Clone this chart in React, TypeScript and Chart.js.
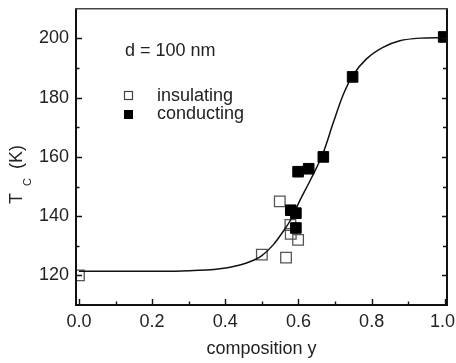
import React, { useEffect, useRef } from 'react';
import { Chart, registerables } from 'chart.js';

Chart.register(...registerables);

// ---- data ----
const insulatingX = [0.0, 0.5, 0.549, 0.566, 0.578, 0.579, 0.599];
const insulatingY = [120, 127, 145, 126, 137, 134, 132];

const conductingX = [0.579, 0.593, 0.593, 0.599, 0.628, 0.668, 0.748, 0.997];
const conductingY = [142, 141, 136, 155, 156, 160, 187, 200.5];

// fitted curve
const curveX = [0.0, 0.1, 0.2, 0.28, 0.385, 0.458, 0.5, 0.531, 0.558, 0.581, 0.604, 0.633, 0.668, 0.695, 0.722, 0.749, 0.786, 0.831, 0.877, 0.932, 1.0];
const curveY = [121.4, 121.4, 121.4, 121.5, 122.2, 124.2, 126.7, 130.3, 134.8, 139.2, 145.3, 152.3, 161.5, 171.5, 180.9, 187.6, 193.1, 197.0, 199.2, 200.1, 200.3];

const xMajorTicks = [0.0, 0.2, 0.4, 0.6, 0.8, 1.0];
const xMinorTicks = [0.1, 0.3, 0.5, 0.7, 0.9];
const yMajorTicks = [120, 140, 160, 180, 200];
const yMinorTicks = [130, 150, 170, 190];

const xTitle = 'composition y';
const yTitleMain = 'T';
const yTitleSub = 'C';
const yTitleUnit = '(K)';
const annotationText = 'd = 100 nm';
const seriesNames = ['insulating', 'conducting'];

const FONT = '"Liberation Sans", Arial, Helvetica, sans-serif';
const TEXT = '#222';

export default function App() {
  const ref = useRef<HTMLCanvasElement>(null);

  useEffect(() => {
    document.body.style.margin = '0';
    const canvas = ref.current;
    if (!canvas) return;

    const decor = {
      id: 'decor',
      afterDraw(chart: any) {
        const { ctx, chartArea } = chart;
        const { left, right, top, bottom } = chartArea;
        const xs = chart.scales.x;
        const ys = chart.scales.y;
        const W = chart.width;
        ctx.save();

        // ticks (inward)
        ctx.strokeStyle = '#111';
        ctx.lineWidth = 1.4;
        ctx.beginPath();
        xMajorTicks.forEach((v) => {
          const p = Math.round(xs.getPixelForValue(v)) + 0.5;
          ctx.moveTo(p, bottom);
          ctx.lineTo(p, bottom - 6);
        });
        xMinorTicks.forEach((v) => {
          const p = Math.round(xs.getPixelForValue(v)) + 0.5;
          ctx.moveTo(p, bottom);
          ctx.lineTo(p, bottom - 3.5);
        });
        yMajorTicks.forEach((v) => {
          const p = Math.round(ys.getPixelForValue(v)) + 0.5;
          ctx.moveTo(left, p);
          ctx.lineTo(left + 6, p);
          ctx.moveTo(right, p);
          ctx.lineTo(right - 5, p);
        });
        yMinorTicks.forEach((v) => {
          const p = Math.round(ys.getPixelForValue(v)) + 0.5;
          ctx.moveTo(left, p);
          ctx.lineTo(left + 3.5, p);
          ctx.moveTo(right, p);
          ctx.lineTo(right - 4, p);
        });
        ctx.stroke();

        // frame
        ctx.lineWidth = 2;
        ctx.strokeStyle = '#111';
        ctx.beginPath();
        ctx.moveTo(left, top);
        ctx.lineTo(left, bottom);
        ctx.lineTo(right, bottom);
        ctx.lineTo(right, top);
        ctx.stroke();
        ctx.strokeStyle = '#444';
        ctx.lineWidth = 1.6;
        ctx.beginPath();
        ctx.moveTo(left - 1, top);
        ctx.lineTo(right + 1, top);
        ctx.stroke();

        ctx.fillStyle = TEXT;

        // x tick labels (last one kept inside the picture)
        ctx.font = `18px ${FONT}`;
        ctx.textBaseline = 'top';
        xMajorTicks.forEach((v) => {
          const label = v.toFixed(1);
          const p = xs.getPixelForValue(v);
          const w = ctx.measureText(label).width;
          let cx = p;
          if (cx + w / 2 > W - 1) cx = W - 1 - w / 2;
          ctx.textAlign = 'center';
          ctx.fillText(label, cx, bottom + 8);
        });

        // x title
        ctx.textAlign = 'center';
        ctx.textBaseline = 'alphabetic';
        ctx.fillText(xTitle, (left + right) / 2, 354);

        // y title (rotated, with subscript)
        ctx.save();
        ctx.translate(22, 205);
        ctx.rotate(-Math.PI / 2);
        ctx.textAlign = 'left';
        ctx.font = `18px ${FONT}`;
        ctx.fillText(yTitleMain, 1, 0);
        ctx.font = `11px ${FONT}`;
        ctx.fillText(yTitleSub, 19, 9);
        ctx.font = `18px ${FONT}`;
        ctx.fillText(yTitleUnit, 36, 0);
        ctx.restore();

        // annotation + legend
        ctx.textAlign = 'left';
        ctx.font = `18px ${FONT}`;
        ctx.fillText(annotationText, 125, 56);
        ctx.fillText(seriesNames[0], 157, 101);
        ctx.fillText(seriesNames[1], 157, 119);

        ctx.strokeStyle = '#444';
        ctx.lineWidth = 1.2;
        ctx.strokeRect(124.5, 91.5, 8, 8);
        ctx.fillStyle = '#000';
        ctx.fillRect(124, 110, 9, 9);

        ctx.restore();
      },
    };

    const chart = new Chart(canvas, {
      type: 'scatter',
      data: {
        datasets: [
          {
            label: seriesNames[1],
            data: conductingX.map((x, i) => ({ x, y: conductingY[i] })),
            pointStyle: 'rect',
            pointRadius: 7.5,
            backgroundColor: '#000',
            borderColor: '#000',
            borderWidth: 1,
            order: 0,
          },
          {
            label: 'fit',
            data: curveX.map((x, i) => ({ x, y: curveY[i] })),
            showLine: true,
            pointRadius: 0,
            borderColor: '#111',
            borderWidth: 1.5,
            cubicInterpolationMode: 'monotone',
            order: 1,
          } as any,
          {
            label: seriesNames[0],
            data: insulatingX.map((x, i) => ({ x, y: insulatingY[i] })),
            pointStyle: 'rect',
            pointRadius: 7.5,
            backgroundColor: 'rgba(255,255,255,0)',
            borderColor: '#555',
            borderWidth: 1.3,
            order: 2,
          },
        ],
      },
      options: {
        responsive: false,
        animation: false,
        events: [],
        layout: { padding: { top: 5, right: 9, left: 0, bottom: 0 } },
        plugins: { legend: { display: false }, tooltip: { enabled: false } },
        scales: {
          x: {
            type: 'linear',
            min: -0.008,
            max: 1.006,
            afterBuildTicks: (s: any) => {
              s.ticks = xMajorTicks.map((v) => ({ value: v }));
            },
            afterFit: (s: any) => {
              s.height = 58;
              s.paddingLeft = 0;
              s.paddingRight = 0;
            },
            grid: { display: false, drawTicks: false },
            border: { display: false },
            ticks: { display: false },
          },
          y: {
            type: 'linear',
            min: 110,
            max: 210,
            afterBuildTicks: (s: any) => {
              s.ticks = yMajorTicks.map((v) => ({ value: v }));
            },
            afterFit: (s: any) => {
              s.width = 76;
              s.paddingTop = 0;
              s.paddingBottom = 0;
            },
            grid: { display: false, drawTicks: false },
            border: { display: false },
            ticks: {
              padding: 7,
              color: TEXT,
              autoSkip: false,
              font: { family: FONT, size: 18 },
              callback: (v: any) => String(v),
            },
          },
        },
      },
      plugins: [decor],
    });

    return () => chart.destroy();
  }, []);

  return <canvas ref={ref} width={456} height={363} style={{ display: 'block' }} />;
}
